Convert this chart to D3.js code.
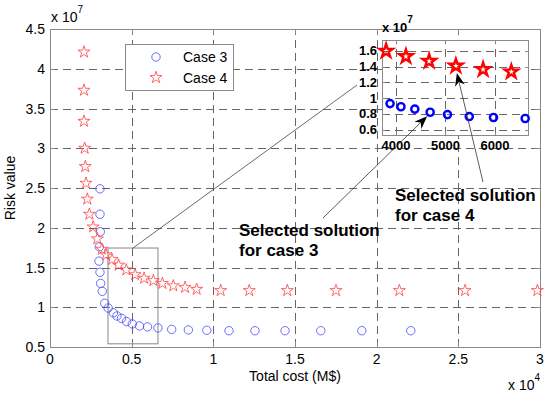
<!DOCTYPE html>
<html>
<head>
<meta charset="utf-8">
<script src="https://cdn.jsdelivr.net/npm/d3@7"></script>
<style>
  body { margin: 0; background: #fff; }
  svg { display: block; font-family: "Liberation Sans", Arial, sans-serif; }
</style>
</head>
<body>
<div id="chart"></div>
<script>
// Case 3 (blue circles): total cost (M$) and risk value
var case3Cost = [3060, 3060, 3080, 3020, 3000, 3060, 3100, 3200, 3350, 3560,
                 3880, 4100, 4380, 4690, 5040, 5480, 5970, 6610,
                 7450, 8470, 9600, 10960, 12550, 14390, 16580, 19090, 22090];
var case3Risk = [2.49e7, 2.17e7, 1.95e7, 1.76e7, 1.58e7, 1.44e7, 1.30e7, 1.20e7, 1.05e7, 0.99e7,
                 0.93e7, 0.89e7, 0.86e7, 0.82e7, 0.79e7, 0.765e7, 0.753e7, 0.74e7,
                 0.722e7, 0.715e7, 0.71e7, 0.705e7, 0.705e7, 0.705e7, 0.705e7, 0.705e7, 0.705e7];
// Case 4 (red stars)
var case4Cost = [2080, 2080, 2080, 2120, 2160, 2205, 2285, 2410, 2640, 2900, 3170, 3430,
                 3800, 4200, 4670, 5210, 5760, 6330,
                 6880, 7550, 8270, 8980, 10450, 12200, 14530, 17510, 21390, 25410, 29840];
var case4Risk = [4.21e7, 3.73e7, 3.34e7, 3.00e7, 2.77e7, 2.56e7, 2.36e7, 2.17e7, 2.01e7, 1.86e7, 1.73e7, 1.66e7,
                 1.60e7, 1.53e7, 1.47e7, 1.41e7, 1.365e7, 1.335e7,
                 1.30e7, 1.27e7, 1.25e7, 1.225e7, 1.21e7, 1.21e7, 1.21e7, 1.21e7, 1.21e7, 1.21e7, 1.21e7];

var xTicks = [0, 5000, 10000, 15000, 20000, 25000, 30000];
var yTicks = [0.5e7, 1e7, 1.5e7, 2e7, 2.5e7, 3e7, 3.5e7, 4e7, 4.5e7];
var insetXTicks = [4000, 5000, 6000];
var insetYTicks = [0.6e7, 0.8e7, 1e7, 1.2e7, 1.4e7, 1.6e7];

var seriesNames = ["Case 3", "Case 4"];
var zoomCost = [3550, 6610];
var zoomRisk = [0.54e7, 1.745e7];
var selected3 = [4690, 0.82e7];
var selected4 = [5210, 1.41e7];

var W = 550, H = 396;
var svg = d3.select("#chart").append("svg").attr("width", W).attr("height", H);

var x = d3.scaleLinear().domain([0, 30000]).range([50, 540]);
var y = d3.scaleLinear().domain([0.5e7, 4.5e7]).range([347, 29]);

var blue = "#4848ff", red = "#ff4040";
var gridCol = "#666", frameCol = "#8a8a8a";

function starPath(R) {
    var r = R * 0.382, p = [];
    for (var i = 0; i < 10; i++) {
        var a = -Math.PI / 2 + i * Math.PI / 5;
        var rr = i % 2 ? r : R;
        p.push([rr * Math.cos(a), rr * Math.sin(a)]);
    }
    return "M" + p.join("L") + "Z";
}

function zipPts(xs, ys) { return xs.map(function (v, i) { return [v, ys[i]]; }); }

// grid
var grid = svg.append("g").attr("stroke", gridCol).attr("stroke-dasharray", "8,5").attr("stroke-width", 1);
grid.selectAll(".gx").data(xTicks.slice(1, -1)).enter().append("line")
    .attr("x1", d => Math.round(x(d)) + 0.5).attr("x2", d => Math.round(x(d)) + 0.5)
    .attr("y1", y.range()[0]).attr("y2", y.range()[1]);
grid.selectAll(".gy").data(yTicks.slice(1, -1)).enter().append("line")
    .attr("y1", d => Math.round(y(d)) + 0.5).attr("y2", d => Math.round(y(d)) + 0.5)
    .attr("x1", x.range()[0]).attr("x2", x.range()[1]);

// frame
svg.append("rect").attr("x", 50.5).attr("y", 29.5).attr("width", 490).attr("height", 318)
    .attr("fill", "none").attr("stroke", frameCol);

// ticks (inward)
var tk = svg.append("g").attr("stroke", frameCol);
xTicks.forEach(function (d) {
    var px = Math.round(x(d)) + 0.5;
    tk.append("line").attr("x1", px).attr("x2", px).attr("y1", 347).attr("y2", 342);
    tk.append("line").attr("x1", px).attr("x2", px).attr("y1", 29).attr("y2", 34);
});
yTicks.forEach(function (d) {
    var py = Math.round(y(d)) + 0.5;
    tk.append("line").attr("x1", 50).attr("x2", 55).attr("y1", py).attr("y2", py);
    tk.append("line").attr("x1", 540).attr("x2", 535).attr("y1", py).attr("y2", py);
});

// tick labels
svg.append("g").attr("font-size", 14).attr("text-anchor", "middle")
    .selectAll("text").data(xTicks).enter().append("text")
    .attr("x", d => x(d)).attr("y", 364).text(d => d3.format("~g")(d / 1e4));
svg.append("g").attr("font-size", 14).attr("text-anchor", "end")
    .selectAll("text").data(yTicks).enter().append("text")
    .attr("x", 45).attr("y", d => y(d) + 5).text(d => d3.format("~g")(d / 1e7));

// exponents
var e1 = svg.append("text").attr("x", 51).attr("y", 22).attr("font-size", 14);
e1.append("tspan").text("x 10");
e1.append("tspan").attr("font-size", 10).attr("dy", -9).text("7");
var e2 = svg.append("text").attr("x", 508).attr("y", 390).attr("font-size", 14);
e2.append("tspan").text("x 10");
e2.append("tspan").attr("font-size", 10).attr("dy", -9).text("4");

// axis titles
svg.append("text").attr("x", 295).attr("y", 381).attr("font-size", 14)
    .attr("text-anchor", "middle").text("Total cost (M$)");
svg.append("text").attr("transform", "translate(15,188) rotate(-90)").attr("font-size", 14)
    .attr("text-anchor", "middle").text("Risk value");

// zoom rectangle
svg.append("rect")
    .attr("x", x(zoomCost[0])).attr("y", y(zoomRisk[1]))
    .attr("width", x(zoomCost[1]) - x(zoomCost[0])).attr("height", y(zoomRisk[0]) - y(zoomRisk[1]))
    .attr("fill", "none").attr("stroke", "#888").attr("stroke-width", 1);
svg.append("line")
    .attr("x1", x((zoomCost[0] + zoomCost[1]) / 2)).attr("y1", y(zoomRisk[1]))
    .attr("x2", 357).attr("y2", 85).attr("stroke", "#444").attr("stroke-width", 0.8);

// main markers
svg.append("g").selectAll("circle").data(zipPts(case3Cost, case3Risk)).enter().append("circle")
    .attr("cx", d => x(d[0])).attr("cy", d => y(d[1])).attr("r", 4.2)
    .attr("fill", "none").attr("stroke", blue).attr("stroke-width", 0.8);
svg.append("g").selectAll("path").data(zipPts(case4Cost, case4Risk)).enter().append("path")
    .attr("d", starPath(6.3)).attr("transform", d => "translate(" + x(d[0]) + "," + y(d[1]) + ")")
    .attr("fill", "none").attr("stroke", red).attr("stroke-width", 0.8);

// legend
var lg = svg.append("g");
lg.append("rect").attr("x", 125.5).attr("y", 44.5).attr("width", 108).attr("height", 46)
    .attr("fill", "#fff").attr("stroke", frameCol);
lg.append("circle").attr("cx", 156).attr("cy", 57).attr("r", 4.2)
    .attr("fill", "none").attr("stroke", blue).attr("stroke-width", 0.8);
lg.append("path").attr("d", starPath(6.3)).attr("transform", "translate(156,77.5)")
    .attr("fill", "none").attr("stroke", red).attr("stroke-width", 0.8);
lg.selectAll("text").data(seriesNames).enter().append("text")
    .attr("x", 183).attr("y", (d, i) => 62 + i * 20.5).attr("font-size", 14).text(d => d);

// inset axes
var xi = d3.scaleLinear().domain([3717, 6667]).range([382, 528]);
var yi = d3.scaleLinear().domain([0.53e7, 1.74e7]).range([135, 40]);
var ins = svg.append("g");
ins.append("rect").attr("x", 382.5).attr("y", 40.5).attr("width", 146).attr("height", 95)
    .attr("fill", "#fff").attr("stroke", "none");
var ig = ins.append("g").attr("stroke", gridCol).attr("stroke-dasharray", "8,5");
ig.selectAll(".a").data(insetXTicks).enter().append("line")
    .attr("x1", d => Math.round(xi(d)) + 0.5).attr("x2", d => Math.round(xi(d)) + 0.5)
    .attr("y1", 135).attr("y2", 40);
ig.selectAll(".b").data(insetYTicks).enter().append("line")
    .attr("y1", d => Math.round(yi(d)) + 0.5).attr("y2", d => Math.round(yi(d)) + 0.5)
    .attr("x1", 382).attr("x2", 528);
ins.append("rect").attr("x", 382.5).attr("y", 40.5).attr("width", 146).attr("height", 95)
    .attr("fill", "none").attr("stroke", frameCol);
var itk = ins.append("g").attr("stroke", frameCol);
insetXTicks.forEach(function (d) {
    var px = Math.round(xi(d)) + 0.5;
    itk.append("line").attr("x1", px).attr("x2", px).attr("y1", 135).attr("y2", 132);
    itk.append("line").attr("x1", px).attr("x2", px).attr("y1", 40).attr("y2", 43);
});
insetYTicks.forEach(function (d) {
    var py = Math.round(yi(d)) + 0.5;
    itk.append("line").attr("x1", 382).attr("x2", 385).attr("y1", py).attr("y2", py);
    itk.append("line").attr("x1", 528).attr("x2", 525).attr("y1", py).attr("y2", py);
});
ins.append("g").attr("font-size", 13).attr("font-weight", "bold").attr("text-anchor", "middle")
    .selectAll("text").data(insetXTicks).enter().append("text")
    .attr("x", d => xi(d)).attr("y", 150).text(d => d);
ins.append("g").attr("font-size", 13).attr("font-weight", "bold").attr("text-anchor", "end")
    .selectAll("text").data(insetYTicks).enter().append("text")
    .attr("x", 377).attr("y", d => yi(d) + 4.5).text(d => d3.format("~g")(d / 1e7));
var e3 = ins.append("text").attr("x", 382).attr("y", 32).attr("font-size", 13).attr("font-weight", "bold");
e3.append("tspan").text("x 10");
e3.append("tspan").attr("font-size", 10).attr("dy", -9).text("7");

function inInset(d) {
    return d[0] >= xi.domain()[0] && d[0] <= xi.domain()[1] && d[1] >= yi.domain()[0] && d[1] <= yi.domain()[1];
}
ins.append("g").selectAll("circle").data(zipPts(case3Cost, case3Risk).filter(inInset)).enter().append("circle")
    .attr("cx", d => xi(d[0])).attr("cy", d => yi(d[1])).attr("r", 3.6)
    .attr("fill", "none").attr("stroke", "#0000ff").attr("stroke-width", 2.4);
ins.append("g").selectAll("path").data(zipPts(case4Cost, case4Risk).filter(inInset)).enter().append("path")
    .attr("d", starPath(7)).attr("transform", d => "translate(" + xi(d[0]) + "," + yi(d[1]) + ")")
    .attr("fill", "none").attr("stroke", "#ff0000").attr("stroke-width", 2.4).attr("stroke-linejoin", "miter");

// annotations
function arrow(x1, y1, x2, y2) {
    var g = svg.append("g");
    var ang = Math.atan2(y2 - y1, x2 - x1);
    var L = 13, Wd = 5, back = 9;
    g.append("line").attr("x1", x1).attr("y1", y1)
        .attr("x2", x2 - back * Math.cos(ang)).attr("y2", y2 - back * Math.sin(ang))
        .attr("stroke", "#333").attr("stroke-width", 0.8);
    var c = Math.cos(ang), s = Math.sin(ang);
    function pt(a, b) { return [x2 + a * c - b * s, y2 + a * s + b * c]; }
    var pts = [pt(0, 0), pt(-L, Wd), pt(-back, 0), pt(-L, -Wd)];
    g.append("path").attr("d", "M" + pts.join("L") + "Z").attr("fill", "#000");
}
arrow(323, 218, xi(selected3[0]) - 3, yi(selected3[1]) + 4);
arrow(483, 182, xi(selected4[0]) + 1, yi(selected4[1]) + 7);

function label(tx, ty, lines) {
    var t = svg.append("text").attr("x", tx).attr("y", ty).attr("font-size", 17).attr("font-weight", "bold");
    lines.forEach(function (l, i) {
        t.append("tspan").attr("x", tx).attr("dy", i ? 20 : 0).text(l);
    });
}
label(239, 236, ["Selected solution", "for case 3"]);
label(395, 201, ["Selected solution", "for case 4"]);
</script>
</body>
</html>
